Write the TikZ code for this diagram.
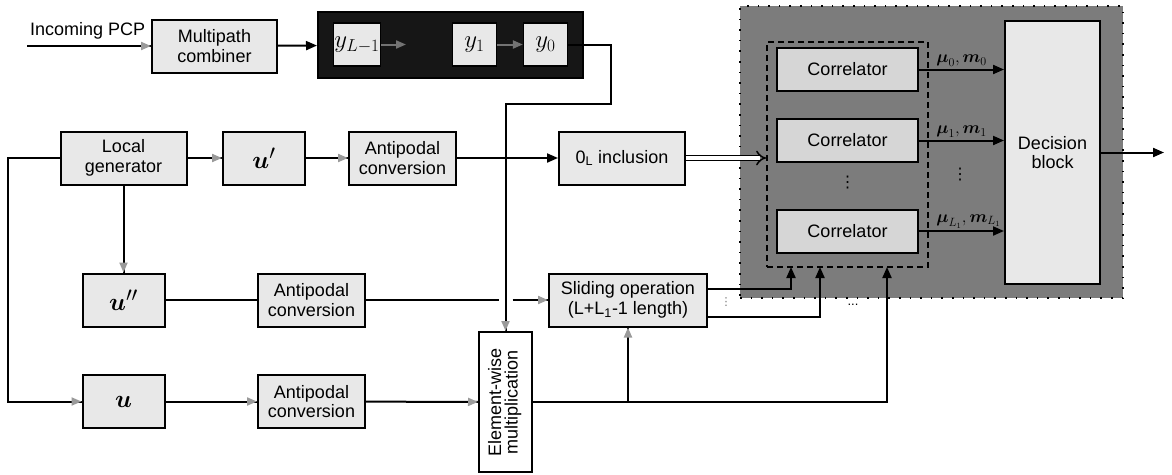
\documentclass[tikz,border=0pt]{standalone}
\usepackage{fontspec}
\setmainfont{Liberation Sans}
\newfontfamily\symfont{DejaVu Sans}
\usepackage{amsmath}
\usetikzlibrary{arrows.meta, positioning, calc, decorations.markings}
\definecolor{boxgray}{HTML}{E8E8E8}
\definecolor{corrgray}{HTML}{D6D6D6}
\definecolor{panelgray}{HTML}{7C7C7C}
\definecolor{regblack}{HTML}{161616}
\definecolor{tipgray}{HTML}{9A9A9A}

\begin{document}
\begin{tikzpicture}[
  x=1pt, y=-1pt,
  every node/.style={font=\fontsize{18}{19.5}\selectfont, inner sep=1pt},
  blk/.style={draw, line width=2pt, fill=boxgray, align=center, minimum width=#1, minimum height=53pt},
  blk/.default=107pt,
  ublk/.style={blk=82pt, font=\fontsize{28}{30}\selectfont},
  cell/.style={draw, line width=1.2pt, fill=boxgray, minimum width=44pt, minimum height=43pt, font=\fontsize{24}{26}\selectfont},
  regbox/.style={draw=black, line width=2pt, fill=regblack, minimum width=265pt, minimum height=66pt},
  panel/.style={fill=panelgray, draw=black, line width=1.6pt, dash pattern=on 1.6pt off 9pt, minimum width=383pt, minimum height=292pt},
  grp/.style={draw, line width=1.8pt, dash pattern=on 6pt off 4pt, minimum width=161pt, minimum height=225pt},
  corr/.style={draw, line width=2pt, fill=corrgray, minimum width=141pt, minimum height=43pt},
  dec/.style={draw, line width=2pt, fill=boxgray, align=center, minimum width=95pt, minimum height=263pt},
  lbl/.style={font=\fontsize{16.5}{18}\selectfont, inner sep=2pt},
  vdts/.style={font=\symfont\fontsize{16}{16}\selectfont},
  barr/.style={line width=2pt, -{Triangle[length=11pt,width=9pt]}},
  farr/.style={line width=2pt, postaction={decorate},
    decoration={markings, mark=at position 1 with {\arrow[tipgray]{Triangle[length=10pt,width=8pt]}}}},
  darr/.style={draw=black!55, line width=2pt, -{Triangle[length=10pt,width=8pt]}},
  dbl/.style={double, double distance=3.5pt, line width=1.5pt, -{Implies}}
]
\useasboundingbox (0,0) rectangle (1172,474);

\node[panel] (pnl) at (931.5,152) {};
\node[grp] (grp) at (847.5,154.5) {};
\node[corr] (c0) at (847.5,69.5) {Correlator};
\node[corr] (c1) at (847.5,140.5) {Correlator};
\node[corr] (c2) at (847.5,231) {Correlator};
\node[dec] (dec) at (1052.5,152.5) {Decision\\block};
\node[vdts] (cdots) at (847.5,183) {⋮};
\node[vdts] (mdots) at (960,175) {⋮};

\node[anchor=base west] (pcp) at (29,35) {Incoming PCP};
\coordinate (pcpin) at (27,46);
\node[blk=125pt] (mpc) at (214.5,46) {Multipath\\combiner};
\node[regbox] (reg) at (450.5,45) {};
\node[cell] (yL) at (357,44.5) {$y_{L-1}$};
\node[cell] (y1) at (474.5,44.5) {$y_1$};
\node[cell] (y0) at (545.5,44.5) {$y_0$};
\coordinate (yfree) at (406,44.5);
\coordinate (bend) at (611,104);

\node[blk=126pt] (gen) at (123.5,158) {Local\\generator};
\node[ublk] (u1) at (264,158) {$\boldsymbol{u}'$};
\node[blk] (ap1) at (402.5,158) {Antipodal\\conversion};
\node[blk=126pt] (zin) at (622,158) {0\textsubscript{L} inclusion};

\node[ublk] (u2) at (123.5,300) {$\boldsymbol{u}''$};
\node[blk] (ap2) at (311.5,300) {Antipodal\\conversion};
\node[blk=158pt] (sld) at (628,300) {Sliding operation\\(L+L\textsubscript{1}-1 length)};
\node[vdts, font=\symfont\fontsize{11}{11}\selectfont, text=black!55] (sdots) at (726,302) {⋮};
\node[font=\fontsize{13}{13}\selectfont] (hdots) at (853,305) {...};

\node[ublk] (u0) at (123.5,401.5) {$\boldsymbol{u}$};
\node[blk] (ap3) at (311.5,401.5) {Antipodal\\conversion};
\node[draw, line width=2pt, fill=white, minimum width=53pt, minimum height=140pt] (ewm) at (505.5,402)
  {\rotatebox{90}{\begin{tabular}{@{}c@{}}Element-wise\\[-3pt]multiplication\end{tabular}}};

\coordinate (hop) at (ewm.north |- ap2.east);
\coordinate (in0) at (791,267);
\coordinate (in1) at (820,267);
\coordinate (in2) at (887,267);
\coordinate (out) at (1164,152.5);

\draw[farr] (pcpin) -- (mpc);
\draw[barr] (mpc) -- (reg);
\draw[darr] (yL) -- (yfree);
\draw[darr] (y1) -- (y0);
\draw[farr] (y0.east) -| (bend) -| (ewm.north);

\draw[farr] (gen) -- (u1);
\draw[farr] (u1) -- (ap1);
\draw[barr] (ap1) -- (zin);
\draw[dbl] (zin.east) -- (zin.east -| grp.west);
\draw[farr] (gen) -- (u2);
\draw[farr] (gen.west) -- ++(-52,0) |- (u0.west);

\draw[line width=2pt] (u2) -- (ap2);
\draw[line width=2pt] (ap2) -- ([xshift=-7pt]hop);
\draw[farr] ([xshift=7pt]hop) -- (sld);
\draw[farr] (u0) -- (ap3);
\draw[farr] (ap3) -- (ewm);

\draw[barr] ([yshift=11pt]sld.east) -| (in0);
\draw[barr] ([yshift=-17pt]sld.east) -| (in1);
\draw[barr] (ewm.east) -| (in2);
\draw[farr] (ewm.east -| sld.south) -- (sld.south);

\draw[barr] (c0) -- (c0 -| dec.west) node[lbl, pos=0.17, anchor=south west] {$\boldsymbol{\mu}_0, \boldsymbol{m}_0$};
\draw[barr] (c1) -- (c1 -| dec.west) node[lbl, pos=0.17, anchor=south west] {$\boldsymbol{\mu}_1, \boldsymbol{m}_1$};
\draw[barr] (c2) -- (c2 -| dec.west) node[lbl, pos=0.17, anchor=south west] {$\boldsymbol{\mu}_{L_1}, \boldsymbol{m}_{L_1}$};
\draw[barr] (dec) -- (out);
\end{tikzpicture}
\end{document}
